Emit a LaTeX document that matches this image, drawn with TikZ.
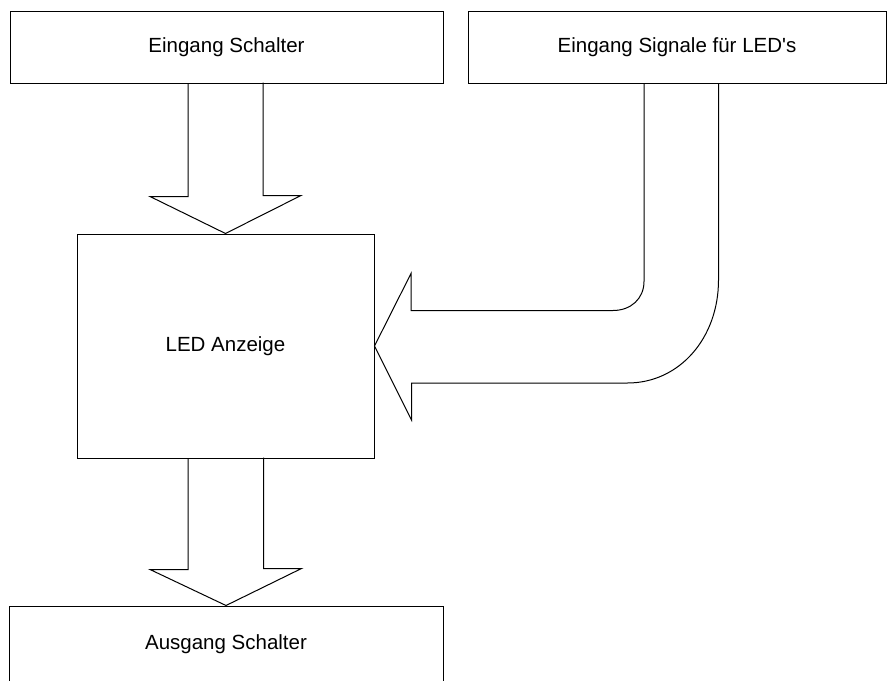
\documentclass[tikz,border=0pt]{standalone}
\usepackage{fontspec}
\setmainfont{Liberation Sans}
\usepackage{tikz}
\usetikzlibrary{calc}

\begin{document}
\begin{tikzpicture}[
    x=1pt, y=-1pt,
    box/.style={rectangle, draw, line width=1pt, align=center, inner sep=0pt, font=\fontsize{20.5}{24}\selectfont},
    block/.style={draw, line width=1pt, line join=miter}
]
\useasboundingbox (0,0) rectangle (896,680);

% Blocks
\node[box, minimum width=433pt, minimum height=72pt] (einSchalter) at (226.5,47) {Eingang Schalter};
\node[box, minimum width=418pt, minimum height=72pt] (einSignale) at (677,47) {Eingang Signale für LED\textquotesingle s};
\node[box, minimum width=297pt, minimum height=224pt] (anzeige) at (225.5,346) {LED Anzeige};
\node[box, minimum width=434pt, minimum height=76pt] (ausSchalter) at (226,644) {Ausgang Schalter};

% Arrow - Eingang Schalter to LED Anzeige
\draw[block] ($(einSchalter.south)+(-38.5,0)$) -- ++(0,113) -- ++(-38,0) -- (anzeige.north)
    -- ++(75.5,-38) -- ++(-38,0) -- ++(0,-113);

% Arrow - LED Anzeige to Ausgang Schalter
\draw[block] ($(anzeige.south)+(-37.5,0)$) -- ++(0,111) -- ++(-38,0) -- (ausSchalter.north)
    -- ++(75.5,-37) -- ++(-38,0) -- ++(0,-111);

% Arrow - Eingang Signale to LED Anzeige (bent)
\draw[block] ($(einSignale.south)+(-33,0)$) -- ++(0,198) .. controls +(0,17) and +(18,0) .. ++(-31,29)
    -- ++(-202,0) -- ++(0,-37) -- (anzeige.east) -- ++(37,74) -- ++(0,-37) -- ++(216,0)
    .. controls +(52,0) and +(0,58) .. ++(91,-103) -- ++(0,-197);

\end{tikzpicture}
\end{document}
